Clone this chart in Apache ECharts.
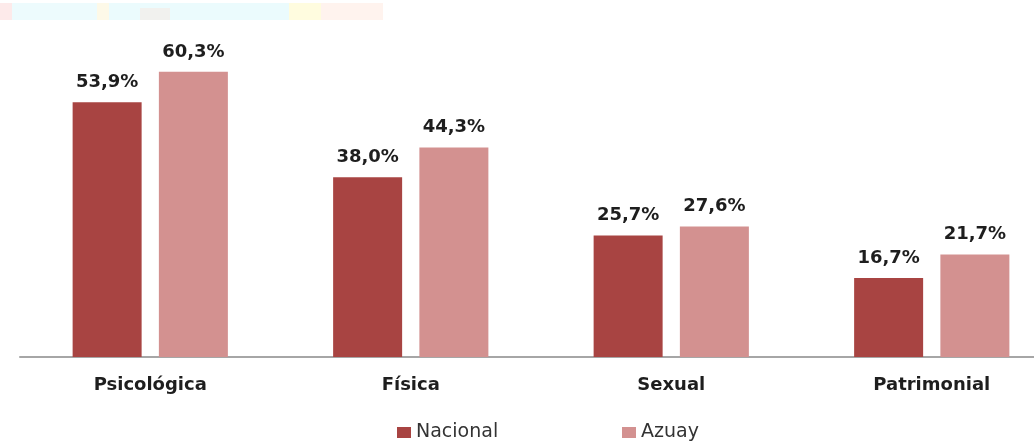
<!DOCTYPE html>
<html>
<head>
<meta charset="utf-8">
<script src="https://cdn.jsdelivr.net/npm/echarts@6/dist/echarts.min.js"></script>
<style>
  html, body { margin: 0; padding: 0; background: #fff; }
  #chart { width: 1034px; height: 442px; }
</style>
</head>
<body>
<div id="chart"></div>
<script>
const categories = ['Psicológica', 'Física', 'Sexual', 'Patrimonial'];
const nacional = [53.9, 38.0, 25.7, 16.7];
const azuay = [60.3, 44.3, 27.6, 21.7];
const seriesNames = ['Nacional', 'Azuay'];

const chart = echarts.init(document.getElementById('chart'));

function pct(params) {
    return params.value.toFixed(1).replace('.', ',') + '%';
}

const labelStyle = {
    show: true,
    position: 'top',
    distance: 11,
    formatter: pct,
    fontFamily: 'DejaVu Sans',
    fontWeight: 'bold',
    fontSize: 18,
    color: '#1e1e1e'
};

const legendBase = {
    top: 418,
    itemWidth: 14,
    itemHeight: 11,
    icon: 'rect',
    textStyle: {
        fontFamily: 'DejaVu Sans',
        fontSize: 19,
        color: '#333'
    }
};

const option = {
    animation: false,
    // faint strip left over from the source page
    graphic: [
        { type: 'rect', shape: { x: 0, y: 3, width: 12, height: 17 }, style: { fill: '#fdeaea' }, silent: true },
        { type: 'rect', shape: { x: 12, y: 3, width: 85, height: 17 }, style: { fill: '#edfbfd' }, silent: true },
        { type: 'rect', shape: { x: 97, y: 3, width: 12, height: 17 }, style: { fill: '#fdf9e8' }, silent: true },
        { type: 'rect', shape: { x: 109, y: 3, width: 180, height: 17 }, style: { fill: '#ebfbfd' }, silent: true },
        { type: 'rect', shape: { x: 140, y: 8, width: 30, height: 12 }, style: { fill: '#f1f1ee' }, silent: true },
        { type: 'rect', shape: { x: 289, y: 3, width: 32, height: 17 }, style: { fill: '#fffcdf' }, silent: true },
        { type: 'rect', shape: { x: 321, y: 3, width: 62, height: 17 }, style: { fill: '#fff3ee' }, silent: true }
    ],
    legend: [
        Object.assign({ data: [seriesNames[0]], left: 392 }, legendBase),
        Object.assign({ data: [seriesNames[1]], left: 617 }, legendBase)
    ],
    grid: {
        left: 20,
        top: 26,
        width: 1042,
        height: 331,
        outerBoundsMode: 'none',
        containLabel: false
    },
    xAxis: {
        type: 'category',
        data: categories,
        axisTick: { show: false },
        axisLine: {
            lineStyle: { color: '#a6a6a6', width: 2 }
        },
        axisLabel: {
            margin: 19,
            fontFamily: 'DejaVu Sans',
            fontWeight: 'bold',
            fontSize: 18,
            color: '#1e1e1e'
        }
    },
    yAxis: {
        type: 'value',
        min: 0,
        max: 70,
        show: false,
        splitLine: { show: false }
    },
    series: [
        {
            name: seriesNames[0],
            type: 'bar',
            data: nacional,
            barWidth: 69,
            barGap: '25%',
            itemStyle: { color: '#a84442' },
            label: labelStyle
        },
        {
            name: seriesNames[1],
            type: 'bar',
            data: azuay,
            barWidth: 69,
            barGap: '25%',
            itemStyle: { color: '#d39190' },
            label: labelStyle
        }
    ]
};

chart.setOption(option);
</script>
</body>
</html>
